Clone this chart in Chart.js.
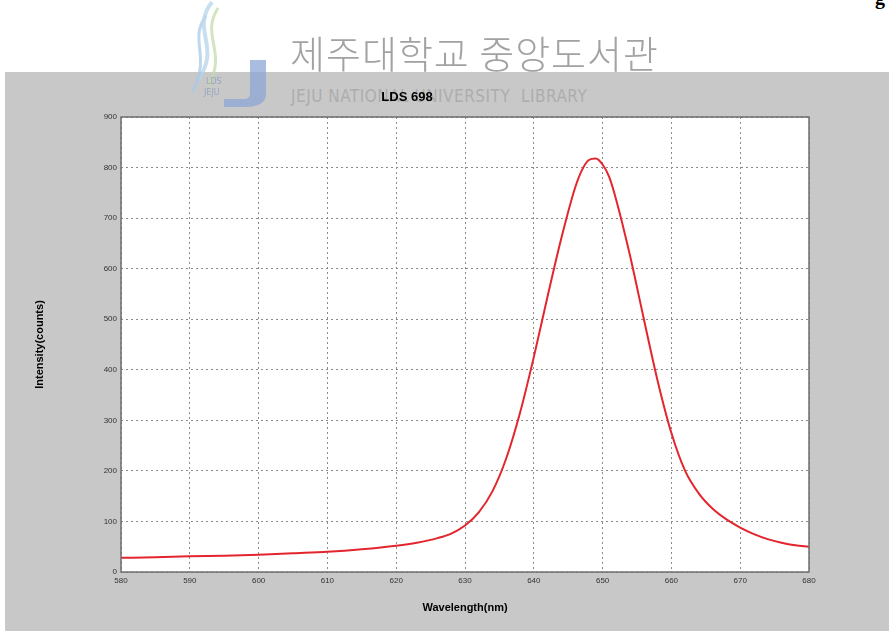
<!DOCTYPE html>
<html>
<head>
<meta charset="utf-8">
<script src="https://cdn.jsdelivr.net/npm/chart.js@4.4.0/dist/chart.umd.min.js"></script>
<style>
  body { margin: 0; width: 889px; height: 631px; background: #fff; position: relative; overflow: hidden; font-family: "Liberation Sans", Arial, sans-serif; }
  #panel { position: absolute; left: 5px; top: 72px; width: 884px; height: 559px; background: #c8c8c8; }
  #chart { position: absolute; left: 0; top: 0; z-index: 2; }
  .wm-ko { position: absolute; left: 290px; top: 24px; font-family: "Noto Sans CJK KR", sans-serif; font-size: 38px; font-weight: 300; color: #a2a2a2; letter-spacing: 1px; z-index: 3; }
  .wm-en { position: absolute; left: 291px; top: 86px; font-family: "DejaVu Sans Condensed", "DejaVu Sans", sans-serif; font-size: 17px; color: #adadad; letter-spacing: 0.5px; z-index: 1; }
  .logo { position: absolute; left: 180px; top: 0; z-index: 3; opacity: 0.75; }
  .corner { position: absolute; right: 4px; top: -14px; font-family: "Liberation Serif", serif; font-weight: bold; font-size: 20px; color: #000; }
</style>
</head>
<body>
<div class="corner">g</div>
<div id="panel"><canvas id="chart" width="884" height="559"></canvas></div>
<svg class="logo" width="95" height="108" viewBox="0 0 95 108">
  <path d="M32 2 C10 30, 42 46, 18 80" stroke="#b6d4ea" stroke-width="4" fill="none"/>
  <path d="M38 8 C20 36, 48 52, 28 86" stroke="#c3dcab" stroke-width="3" fill="none"/>
  <path d="M26 16 C8 40, 32 56, 12 92" stroke="#a9c9e8" stroke-width="3" fill="none"/>
  <path d="M70 60 L86 60 L86 94 C86 104, 76 107, 64 107 L44 107 L44 99 L64 99 C68 99, 70 97, 70 93 Z" fill="#8ea6d6"/>
  <text x="26" y="84" font-size="8" fill="#8a9bb8" font-family="DejaVu Sans">LDS</text>
  <text x="24" y="95" font-size="8" fill="#8a9bb8" font-family="DejaVu Sans">JEJU</text>
</svg>
<div class="wm-ko">제주대학교 중앙도서관</div>
<div class="wm-en">JEJU NATIONAL UNIVERSITY&nbsp; LIBRARY</div>
<script>
// LDS 698 emission spectrum
const wavelengths = [580, 585, 590, 595, 600, 605, 610, 615, 620, 623, 626, 628, 630, 632, 634, 636, 638, 640, 642, 644, 646, 647, 648, 649, 650, 651, 652, 654, 656, 658, 660, 662, 664, 666, 668, 670, 672, 674, 676, 678, 680];
const intensity   = [28, 29, 31, 32, 34, 37, 40, 45, 52, 58, 67, 76, 92, 118, 160, 225, 315, 425, 545, 660, 760, 795, 815, 818, 806, 780, 735, 625, 500, 378, 275, 200, 155, 125, 104, 88, 75, 65, 58, 53, 50];

const xTicks = [580, 590, 600, 610, 620, 630, 640, 650, 660, 670, 680];
const yTicks = [0, 100, 200, 300, 400, 500, 600, 700, 800, 900];

const chartTitle = 'LDS 698';
const xLabel = 'Wavelength(nm)';
const yLabel = 'Intensity(counts)';

const points = wavelengths.map((w, i) => ({ x: w, y: intensity[i] }));

// white plot area + dark frame
const plotFrame = {
  id: 'plotFrame',
  beforeDraw(chart) {
    const { ctx, chartArea: a } = chart;
    ctx.save();
    ctx.fillStyle = '#ffffff';
    ctx.fillRect(a.left, a.top, a.right - a.left, a.bottom - a.top);
    ctx.restore();
  },
  afterDraw(chart) {
    const { ctx, chartArea: a } = chart;
    ctx.save();
    ctx.strokeStyle = '#6e6e6e';
    ctx.lineWidth = 1.5;
    ctx.strokeRect(a.left, a.top, a.right - a.left, a.bottom - a.top);
    ctx.restore();
  }
};

const tickFont = { family: 'Liberation Sans', size: 8 };
const gridStyle = {
  color: '#8a8a8a',
  lineWidth: 1,
  tickLength: 0,
  drawTicks: false
};

new Chart(document.getElementById('chart'), {
  type: 'line',
  data: {
    datasets: [{
      data: points,
      borderColor: '#e3262e',
      borderWidth: 2,
      pointRadius: 0,
      cubicInterpolationMode: 'monotone',
      fill: false
    }]
  },
  options: {
    responsive: false,
    animation: false,
    layout: { padding: { top: 0, left: 0, right: 80, bottom: 0 } },
    plugins: {
      legend: { display: false },
      tooltip: { enabled: false },
      title: {
        display: true,
        text: chartTitle,
        color: '#000',
        font: { family: 'Liberation Sans', size: 13, weight: 'bold', lineHeight: 1.2 },
        padding: { top: 18, bottom: 11.4 }
      }
    },
    scales: {
      x: {
        type: 'linear',
        min: xTicks[0],
        max: xTicks[xTicks.length - 1],
        afterBuildTicks: s => { s.ticks = xTicks.map(v => ({ value: v })); },
        afterFit: s => { s.height = 59; },
        ticks: { color: '#333', font: tickFont, padding: 4, maxRotation: 0 },
        grid: gridStyle,
        border: { display: false, dash: [2, 3] },
        title: {
          display: true,
          text: xLabel,
          color: '#000',
          font: { family: 'Liberation Sans', size: 11, weight: 'bold', lineHeight: 1.2 },
          padding: { top: 0, bottom: 16 }
        }
      },
      y: {
        min: yTicks[0],
        max: yTicks[yTicks.length - 1],
        afterBuildTicks: s => { s.ticks = yTicks.map(v => ({ value: v })); },
        afterFit: s => { s.width = 116; },
        ticks: { color: '#333', font: tickFont, padding: 4 },
        grid: gridStyle,
        border: { display: false, dash: [2, 3] },
        title: {
          display: true,
          text: yLabel,
          color: '#000',
          font: { family: 'Liberation Sans', size: 11, weight: 'bold', lineHeight: 1.2 },
          padding: { top: 28, bottom: 0 }
        }
      }
    }
  },
  plugins: [plotFrame]
});
</script>
</body>
</html>
